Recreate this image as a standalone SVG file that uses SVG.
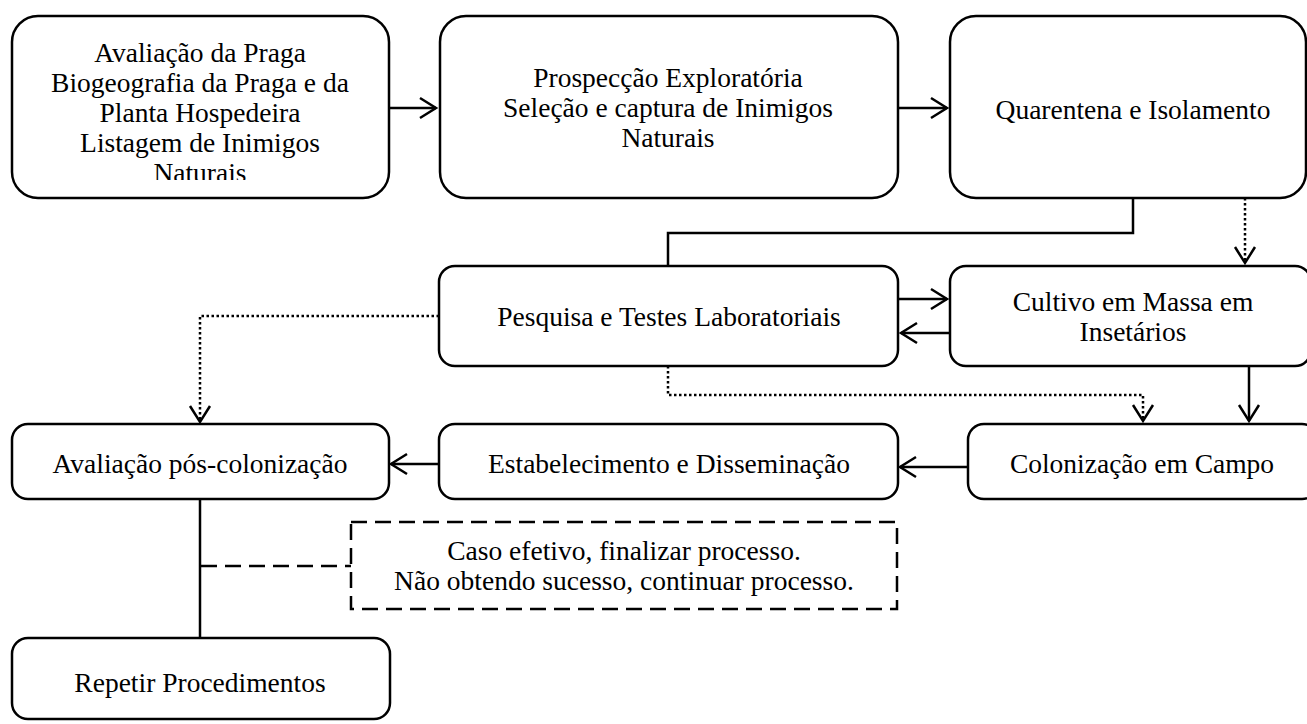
<svg xmlns="http://www.w3.org/2000/svg" width="1307" height="724" viewBox="0 0 1307 724">
<style>
.box{fill:#fff;stroke:#000;stroke-width:2.5}
.dbox{fill:#fff;stroke:#000;stroke-width:2.5;stroke-dasharray:16 8}
.t{font-family:"Liberation Serif","Times New Roman",serif;font-size:27.5px;fill:#000;text-anchor:middle}
.c{fill:none;stroke:#000;stroke-width:2.5}
.dot{fill:none;stroke:#000;stroke-width:2.5;stroke-dasharray:2.5 2.5}
.dash{fill:none;stroke:#000;stroke-width:2.5;stroke-dasharray:16 8}
</style>
<defs>
<marker id="ah" viewBox="-20 -12 24 24" markerWidth="24" markerHeight="24" refX="0" refY="0" orient="auto" markerUnits="userSpaceOnUse">
<path d="M-16,-10 L0,0 L-16,10" fill="none" stroke="#000" stroke-width="2.5"/>
</marker>
<clipPath id="clip1"><rect x="12" y="16" width="377" height="164"/></clipPath>
</defs>
<rect width="1307" height="724" fill="#fff"/>
<g id="connectors">
<line class="c" x1="389" y1="108" x2="436" y2="108" marker-end="url(#ah)"/>
<line class="c" x1="898" y1="108" x2="947" y2="108" marker-end="url(#ah)"/>
<polyline class="c" points="1133,198 1133,233 668,233 668,266"/>
<line class="dot" x1="1245" y1="198" x2="1245" y2="262"/>
<line class="c" x1="1245" y1="250" x2="1245" y2="263" marker-end="url(#ah)" stroke-opacity="0"/>
<line class="c" x1="898" y1="299" x2="947" y2="299" marker-end="url(#ah)"/>
<line class="c" x1="950" y1="333" x2="901" y2="333" marker-end="url(#ah)"/>
<line class="c" x1="1249" y1="366" x2="1249" y2="421" marker-end="url(#ah)"/>
<polyline class="dot" points="668,366 668,395 1143,395 1143,421"/>
<line class="c" x1="1143" y1="410" x2="1143" y2="421" marker-end="url(#ah)" stroke-opacity="0"/>
<polyline class="dot" points="439,316 200,316 200,422"/>
<line class="c" x1="200" y1="410" x2="200" y2="422" marker-end="url(#ah)" stroke-opacity="0"/>
<line class="c" x1="968" y1="467" x2="900" y2="467" marker-end="url(#ah)"/>
<line class="c" x1="439" y1="464" x2="391" y2="464" marker-end="url(#ah)"/>
<line class="c" x1="200" y1="499" x2="200" y2="638"/>
<line class="dash" x1="201" y1="566" x2="351" y2="566"/>
</g>
<g id="n1">
<rect class="box" x="12" y="16" width="377" height="182" rx="26"/>
<g clip-path="url(#clip1)">
<text class="t" x="200" y="62">Avaliação da Praga</text>
<text class="t" x="200" y="92">Biogeografia da Praga e da</text>
<text class="t" x="200" y="122">Planta Hospedeira</text>
<text class="t" x="200" y="152">Listagem de Inimigos</text>
<text class="t" x="200" y="182">Naturais</text>
</g>
</g>
<g id="n2">
<rect class="box" x="440" y="16" width="458" height="182" rx="26"/>
<text class="t" x="668" y="87">Prospecção Exploratória</text>
<text class="t" x="668" y="117">Seleção e captura de Inimigos</text>
<text class="t" x="668" y="147">Naturais</text>
</g>
<g id="n3">
<rect class="box" x="950" y="16" width="356" height="182" rx="26"/>
<text class="t" x="1133" y="119">Quarentena e Isolamento</text>
</g>
<g id="n4">
<rect class="box" x="439" y="266" width="459" height="100" rx="16"/>
<text class="t" x="669" y="326">Pesquisa e Testes Laboratoriais</text>
</g>
<g id="n5">
<rect class="box" x="950" y="266" width="361" height="100" rx="16"/>
<text class="t" x="1133" y="311">Cultivo em Massa em</text>
<text class="t" x="1133" y="341">Insetários</text>
</g>
<g id="n6">
<rect class="box" x="968" y="424" width="350" height="75" rx="16"/>
<text class="t" x="1142" y="473">Colonização em Campo</text>
</g>
<g id="n7">
<rect class="box" x="439" y="424" width="459" height="75" rx="16"/>
<text class="t" x="669" y="473">Estabelecimento e Disseminação</text>
</g>
<g id="n8">
<rect class="box" x="12" y="424" width="377" height="75" rx="16"/>
<text class="t" x="200" y="473">Avaliação pós-colonização</text>
</g>
<g id="n9">
<rect class="dbox" x="351" y="522" width="546" height="87"/>
<text class="t" x="624" y="560">Caso efetivo, finalizar processo.</text>
<text class="t" x="624" y="590">Não obtendo sucesso, continuar processo.</text>
</g>
<g id="n10">
<rect class="box" x="12" y="638" width="378" height="81" rx="16"/>
<text class="t" x="200" y="692">Repetir Procedimentos</text>
</g>
</svg>
